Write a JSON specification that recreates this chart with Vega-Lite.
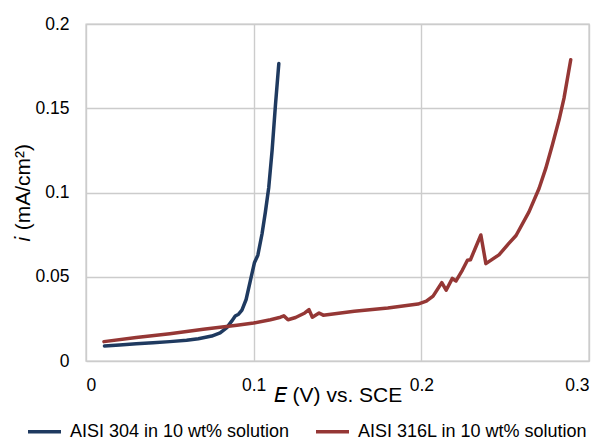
{
  "$schema": "https://vega.github.io/schema/vega-lite/v6.json",
  "width": 503,
  "height": 337,
  "autosize": {"type": "none"},
  "padding": {"left": 86, "top": 24, "right": 14, "bottom": 80},
  "config": {
    "font": "Liberation Sans",
    "view": {"stroke": "#cccccc", "strokeWidth": 1.4},
    "axis": {
      "labelFont": "Liberation Sans",
      "labelFontSize": 17.5,
      "labelColor": "#000000",
      "titleFont": "Liberation Sans",
      "titleFontSize": 21,
      "titleFontWeight": "normal",
      "titleColor": "#000000",
      "gridColor": "#cccccc",
      "gridWidth": 1.4,
      "gridOpacity": 1,
      "domain": false,
      "ticks": false,
      "tickSize": 0
    },
    "legend": {
      "labelFont": "Liberation Sans",
      "labelFontSize": 18,
      "labelColor": "#000000",
      "labelLimit": 400
    }
  },
  "data": {
    "values": [
      {"series": "AISI 304 in 10 wt% solution", "E": 0.011, "i": 0.0089},
      {"series": "AISI 304 in 10 wt% solution", "E": 0.02, "i": 0.0095},
      {"series": "AISI 304 in 10 wt% solution", "E": 0.03, "i": 0.0102},
      {"series": "AISI 304 in 10 wt% solution", "E": 0.04, "i": 0.0108},
      {"series": "AISI 304 in 10 wt% solution", "E": 0.05, "i": 0.0115},
      {"series": "AISI 304 in 10 wt% solution", "E": 0.06, "i": 0.0123},
      {"series": "AISI 304 in 10 wt% solution", "E": 0.067, "i": 0.0132},
      {"series": "AISI 304 in 10 wt% solution", "E": 0.075, "i": 0.0148},
      {"series": "AISI 304 in 10 wt% solution", "E": 0.08, "i": 0.0167},
      {"series": "AISI 304 in 10 wt% solution", "E": 0.084, "i": 0.0198},
      {"series": "AISI 304 in 10 wt% solution", "E": 0.087, "i": 0.0238},
      {"series": "AISI 304 in 10 wt% solution", "E": 0.089, "i": 0.0267},
      {"series": "AISI 304 in 10 wt% solution", "E": 0.091, "i": 0.0278},
      {"series": "AISI 304 in 10 wt% solution", "E": 0.093, "i": 0.0302},
      {"series": "AISI 304 in 10 wt% solution", "E": 0.0955, "i": 0.0365},
      {"series": "AISI 304 in 10 wt% solution", "E": 0.098, "i": 0.0475},
      {"series": "AISI 304 in 10 wt% solution", "E": 0.1005, "i": 0.0585},
      {"series": "AISI 304 in 10 wt% solution", "E": 0.1025, "i": 0.0628},
      {"series": "AISI 304 in 10 wt% solution", "E": 0.105, "i": 0.0755},
      {"series": "AISI 304 in 10 wt% solution", "E": 0.107, "i": 0.0885},
      {"series": "AISI 304 in 10 wt% solution", "E": 0.109, "i": 0.103},
      {"series": "AISI 304 in 10 wt% solution", "E": 0.111, "i": 0.125},
      {"series": "AISI 304 in 10 wt% solution", "E": 0.113, "i": 0.152},
      {"series": "AISI 304 in 10 wt% solution", "E": 0.115, "i": 0.1765},
      {"series": "AISI 316L in 10 wt% solution", "E": 0.0107, "i": 0.0115},
      {"series": "AISI 316L in 10 wt% solution", "E": 0.03, "i": 0.014},
      {"series": "AISI 316L in 10 wt% solution", "E": 0.05, "i": 0.0162},
      {"series": "AISI 316L in 10 wt% solution", "E": 0.07, "i": 0.0188},
      {"series": "AISI 316L in 10 wt% solution", "E": 0.09, "i": 0.0212},
      {"series": "AISI 316L in 10 wt% solution", "E": 0.1, "i": 0.0225},
      {"series": "AISI 316L in 10 wt% solution", "E": 0.11, "i": 0.0245},
      {"series": "AISI 316L in 10 wt% solution", "E": 0.116, "i": 0.026},
      {"series": "AISI 316L in 10 wt% solution", "E": 0.118, "i": 0.0268},
      {"series": "AISI 316L in 10 wt% solution", "E": 0.1205, "i": 0.0245},
      {"series": "AISI 316L in 10 wt% solution", "E": 0.125, "i": 0.0258},
      {"series": "AISI 316L in 10 wt% solution", "E": 0.1305, "i": 0.0285},
      {"series": "AISI 316L in 10 wt% solution", "E": 0.133, "i": 0.0305},
      {"series": "AISI 316L in 10 wt% solution", "E": 0.135, "i": 0.026},
      {"series": "AISI 316L in 10 wt% solution", "E": 0.139, "i": 0.0285},
      {"series": "AISI 316L in 10 wt% solution", "E": 0.1415, "i": 0.0272},
      {"series": "AISI 316L in 10 wt% solution", "E": 0.16, "i": 0.0295},
      {"series": "AISI 316L in 10 wt% solution", "E": 0.18, "i": 0.0315},
      {"series": "AISI 316L in 10 wt% solution", "E": 0.198, "i": 0.0338},
      {"series": "AISI 316L in 10 wt% solution", "E": 0.203, "i": 0.0355},
      {"series": "AISI 316L in 10 wt% solution", "E": 0.207, "i": 0.0385},
      {"series": "AISI 316L in 10 wt% solution", "E": 0.2122, "i": 0.0465},
      {"series": "AISI 316L in 10 wt% solution", "E": 0.2148, "i": 0.042},
      {"series": "AISI 316L in 10 wt% solution", "E": 0.2185, "i": 0.049},
      {"series": "AISI 316L in 10 wt% solution", "E": 0.2207, "i": 0.0475},
      {"series": "AISI 316L in 10 wt% solution", "E": 0.2245, "i": 0.054},
      {"series": "AISI 316L in 10 wt% solution", "E": 0.2275, "i": 0.0598},
      {"series": "AISI 316L in 10 wt% solution", "E": 0.2293, "i": 0.0601},
      {"series": "AISI 316L in 10 wt% solution", "E": 0.2355, "i": 0.0748},
      {"series": "AISI 316L in 10 wt% solution", "E": 0.2385, "i": 0.0578},
      {"series": "AISI 316L in 10 wt% solution", "E": 0.2463, "i": 0.063},
      {"series": "AISI 316L in 10 wt% solution", "E": 0.2522, "i": 0.0698},
      {"series": "AISI 316L in 10 wt% solution", "E": 0.2565, "i": 0.0745},
      {"series": "AISI 316L in 10 wt% solution", "E": 0.2642, "i": 0.0885},
      {"series": "AISI 316L in 10 wt% solution", "E": 0.2702, "i": 0.1024},
      {"series": "AISI 316L in 10 wt% solution", "E": 0.2742, "i": 0.1143},
      {"series": "AISI 316L in 10 wt% solution", "E": 0.2781, "i": 0.128},
      {"series": "AISI 316L in 10 wt% solution", "E": 0.2821, "i": 0.143},
      {"series": "AISI 316L in 10 wt% solution", "E": 0.2851, "i": 0.156},
      {"series": "AISI 316L in 10 wt% solution", "E": 0.2891, "i": 0.1788}
    ]
  },
  "mark": {"type": "line", "strokeWidth": 3.5, "strokeCap": "round", "strokeJoin": "round"},
  "encoding": {
    "x": {
      "field": "E",
      "type": "quantitative",
      "scale": {"domain": [0, 0.3], "nice": false, "zero": false},
      "axis": {
        "values": [0, 0.1, 0.2, 0.3],
        "format": "~g",
        "labelBaseline": "alphabetic",
        "labelPadding": 29,
        "title": "\uD835\uDE0C (V) vs. SCE",
        "titleBaseline": "alphabetic",
        "titleY": 40
      }
    },
    "y": {
      "field": "i",
      "type": "quantitative",
      "scale": {"domain": [0, 0.2], "nice": false},
      "axis": {
        "values": [0, 0.05, 0.1, 0.15, 0.2],
        "format": "~g",
        "labelPadding": 17,
        "title": "\uD835\uDE2A (mA/cm²)",
        "titleBaseline": "alphabetic",
        "titleX": -57,
        "titleAngle": -90
      }
    },
    "color": {
      "field": "series",
      "type": "nominal",
      "scale": {
        "domain": ["AISI 304 in 10 wt% solution", "AISI 316L in 10 wt% solution"],
        "range": ["#1f3a60", "#953735"]
      },
      "legend": {
        "title": null,
        "orient": "none",
        "direction": "horizontal",
        "legendX": -60,
        "legendY": 389,
        "symbolType": "stroke",
        "symbolSize": 1089,
        "symbolStrokeWidth": 3.5,
        "labelOffset": 7,
        "columnPadding": 19
      }
    }
  }
}
